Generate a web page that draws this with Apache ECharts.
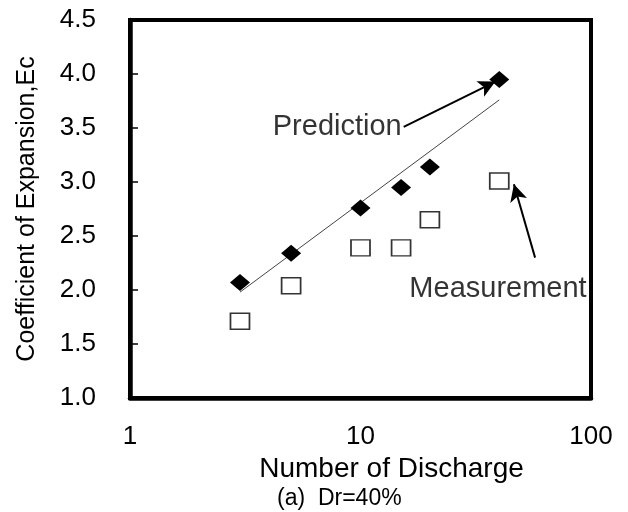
<!DOCTYPE html>
<html>
<head>
<meta charset="utf-8">
<script src="https://cdn.jsdelivr.net/npm/echarts@6/dist/echarts.min.js"></script>
<style>
html,body{margin:0;padding:0;background:#fff;}
#chart{width:628px;height:512px;}
</style>
</head>
<body>
<div id="chart"></div>
<script>
// Data
const dischargeNumbers = [3, 5, 10, 15, 20, 40];
const predictionValues = [2.07, 2.34, 2.76, 2.95, 3.14, 3.95];
const measurementValues = [1.71, 2.04, 2.39, 2.39, 2.65, 3.01];
const trendX = [3, 40];
const trendY = [1.98, 3.76];
const yTicks = [1.0, 1.5, 2.0, 2.5, 3.0, 3.5, 4.0, 4.5];
const xTicks = [1, 10, 100];
// Annotations (data units)
const predictionArrow = [[15.4, 3.51], [38.5, 3.93]];
const measurementArrow = [[57.2, 2.30], [46.3, 2.98]];
const predictionLabelAnchor = [15.4, 3.51];
const measurementLabelAnchor = [39.5, 2.01];

const FONT = 'Liberation Sans, Arial, sans-serif';
const chart = echarts.init(document.getElementById('chart'), null, {renderer: 'canvas'});

chart.setOption({
  animation: false,
  backgroundColor: '#fff',
  title: {
    text: '(a)  Dr=40%',
    left: 277, top: 487, padding: 0,
    textStyle: {fontFamily: FONT, fontSize: 23, fontWeight: 'normal', color: '#000'}
  },
  grid: {left: 130, right: 37, top: 20, bottom: 114, show: true, borderColor: '#000', borderWidth: 4},
  xAxis: [{
    type: 'log', logBase: 10, min: xTicks[0], max: xTicks[xTicks.length - 1],
    name: 'Number of Discharge', nameLocation: 'middle', nameGap: 42,
    nameTextStyle: {fontFamily: FONT, fontSize: 28, color: '#000', padding: [0, 0, 0, 62]},
    axisLine: {lineStyle: {color: '#000', width: 4.5}},
    axisTick: {show: false},
    minorTick: {show: false},
    splitLine: {show: false},
    axisLabel: {fontFamily: FONT, fontSize: 26, color: '#000', margin: 26,
      formatter: v => xTicks.includes(Math.round(v)) ? String(Math.round(v)) : ''}
  }],
  yAxis: [{
    type: 'value', min: yTicks[0], max: yTicks[yTicks.length - 1], interval: 0.5,
    name: 'Coefficient of Expansion,Ec', nameLocation: 'middle', nameGap: 90,
    nameTextStyle: {fontFamily: FONT, fontSize: 25, color: '#000'},
    axisLine: {lineStyle: {color: '#000', width: 4.5}},
    axisTick: {inside: true, length: 8, lineStyle: {color: '#000', width: 1.5}},
    splitLine: {show: false},
    axisLabel: {fontFamily: FONT, fontSize: 26, color: '#000', margin: 34,
      formatter: v => v.toFixed(1)}
  }],
  series: [
    {
      name: 'Trend', type: 'line', symbol: 'none', z: 2,
      data: trendX.map((x, i) => [x, trendY[i]]),
      lineStyle: {color: '#444', width: 1}
    },
    {
      name: 'Prediction', type: 'scatter', symbol: 'diamond', symbolSize: [20, 17], z: 4,
      data: dischargeNumbers.map((x, i) => [x, predictionValues[i]]),
      itemStyle: {color: '#000', opacity: 1}
    },
    {
      name: 'Measurement', type: 'scatter', symbol: 'rect', symbolSize: [19, 16], z: 4,
      data: dischargeNumbers.map((x, i) => [x, measurementValues[i]]),
      itemStyle: {color: '#fff', borderColor: '#333', borderWidth: 1.6, opacity: 1}
    },
    {
      name: 'Annotations', type: 'scatter', symbolSize: 0, z: 5, silent: true,
      data: [
        {value: predictionLabelAnchor, label: {show: true, position: 'left', distance: 2, formatter: 'Prediction'}},
        {value: measurementLabelAnchor, label: {show: true, position: 'inside', formatter: 'Measurement'}}
      ],
      label: {fontFamily: FONT, fontSize: 29, color: '#000'},
      markLine: {
        silent: true, symbol: ['none', 'arrow'], symbolSize: [13, 17],
        lineStyle: {color: '#000', width: 2, type: 'solid', opacity: 1},
        itemStyle: {color: '#000'},
        label: {show: false},
        data: [
          [{coord: predictionArrow[0]}, {coord: predictionArrow[1]}],
          [{coord: measurementArrow[0]}, {coord: measurementArrow[1]}]
        ]
      }
    }
  ]
});
</script>
</body>
</html>
